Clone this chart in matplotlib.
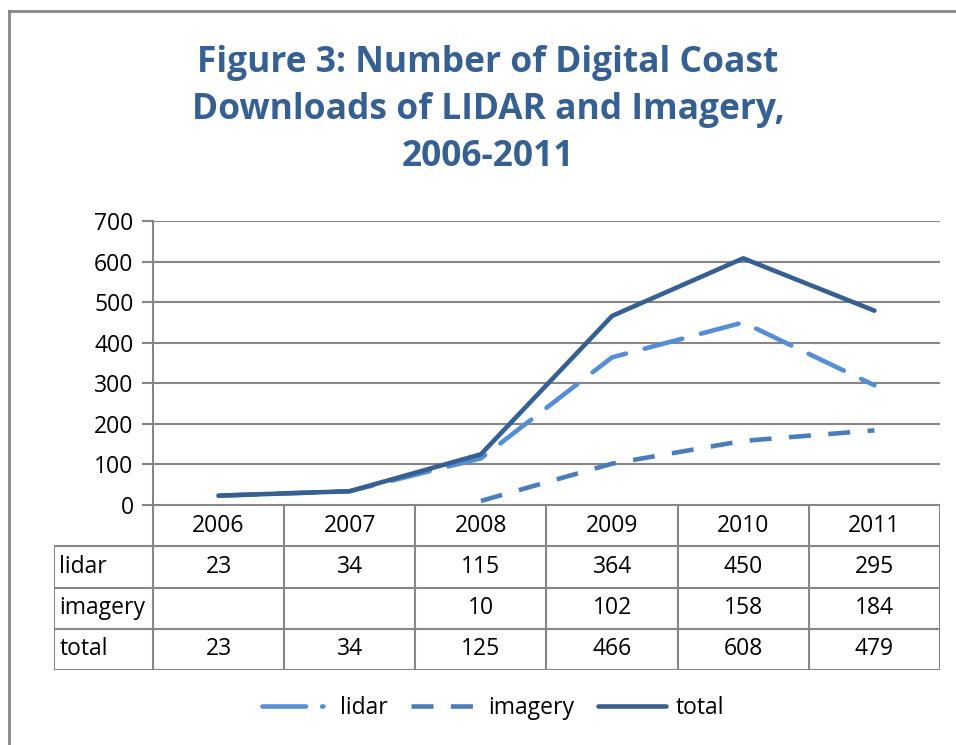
import numpy as np
import matplotlib.pyplot as plt
from matplotlib.lines import Line2D

years = ['2006', '2007', '2008', '2009', '2010', '2011']
lidar = [23, 34, 115, 364, 450, 295]
imagery = [None, None, 10, 102, 158, 184]
total = [23, 34, 125, 466, 608, 479]
row_names = ['lidar', 'imagery', 'total']
yticks = [0, 100, 200, 300, 400, 500, 600, 700]

plt.rcParams['font.family'] = ['Open Sans', 'DejaVu Sans']

W, H = 956, 745
fig = plt.figure(figsize=(W / 100, H / 100), dpi=100)
grid_c = '#868686'
c_lidar = '#558ED5'
c_imag = '#4A7EBB'
c_total = '#376092'


def fx(px):
    return px / W


def fy(py):
    return 1 - py / H


# chart area
ax = fig.add_axes([fx(153), fy(505), fx(940) - fx(153), fy(221) - fy(505)])
x = np.arange(len(years))
img = np.array([np.nan if v is None else v for v in imagery], dtype=float)

lw = 3.3
ax.plot(x, lidar, color=c_lidar, lw=lw, dashes=(8.5, 4.2), dash_capstyle='round',
        solid_capstyle='round', zorder=3)
ax.plot(x, img, color=c_imag, lw=lw, dashes=(4.8, 3.8), dash_capstyle='butt', zorder=3)
ax.plot(x, total, color=c_total, lw=lw, solid_capstyle='round', zorder=4)

ax.set_xlim(-0.5, len(years) - 0.5)
ax.set_ylim(0, 700)
ax.set_yticks(yticks)
ax.set_xticks([])
ax.yaxis.grid(True, color=grid_c, lw=1.5)
ax.set_axisbelow(True)
for s in ['top', 'right', 'bottom']:
    ax.spines[s].set_visible(False)
ax.spines['left'].set_color(grid_c)
ax.spines['left'].set_linewidth(1.5)
fs = 16.5
ax.tick_params(axis='y', length=8, width=1.5, color=grid_c, labelsize=fs, pad=6)

# data table below the chart
tab = fig.add_axes([fx(54), fy(670), fx(940) - fx(54), fy(505) - fy(670)])
lab_w = 99 / 131.2
tab.set_xlim(-0.5 - lab_w, len(years) - 0.5)
tab.set_ylim(4, 0)
tab.axis('off')
tk = dict(color=grid_c, lw=1.5, solid_capstyle='projecting')
# horizontal lines
tab.plot([-0.5, len(years) - 0.5], [0, 0], **tk)
for r in [1, 2, 3, 4]:
    tab.plot([-0.5 - lab_w, len(years) - 0.5], [r, r], **tk)
# vertical lines
for i in range(len(years) + 1):
    tab.plot([i - 0.5, i - 0.5], [0, 4], **tk)
tab.plot([-0.5 - lab_w, -0.5 - lab_w], [1, 4], **tk)

for i, yr in enumerate(years):
    tab.text(i, 0.5, yr, ha='center', va='center', fontsize=fs)
for r, (name, vals) in enumerate(zip(row_names, [lidar, imagery, total])):
    tab.text(-0.5 - lab_w + 0.04, r + 1.5, name, ha='left', va='center', fontsize=fs)
    for i, v in enumerate(vals):
        if v is not None:
            tab.text(i, r + 1.5, str(v), ha='center', va='center', fontsize=fs)

# title
fig.text(fx(488), fy(110), 'Figure 3: Number of Digital Coast\nDownloads of LIDAR and Imagery,\n2006-2011',
         ha='center', va='center', fontsize=25.5, fontweight='bold', color=c_total,
         linespacing=1.42)

# legend
handles = [
    Line2D([], [], color=c_lidar, lw=lw, dashes=(9.5, 3.5, 0.3, 3), dash_capstyle='round'),
    Line2D([], [], color=c_imag, lw=lw, dashes=(4.8, 3.8)),
    Line2D([], [], color=c_total, lw=lw, solid_capstyle='round'),
]
fig.legend(handles, row_names, loc='center', bbox_to_anchor=(fx(493), fy(708)), ncol=3,
           frameon=False, fontsize=fs, handlelength=3.0, handletextpad=0.4, columnspacing=1.0)

# outer frame (left and top edges)
fig.add_artist(Line2D([fx(9), fx(9)], [fy(11), 0], color=grid_c, lw=2))
fig.add_artist(Line2D([fx(9), 1], [fy(11), fy(11)], color=grid_c, lw=2))

fig.savefig('out.png', dpi=100)
